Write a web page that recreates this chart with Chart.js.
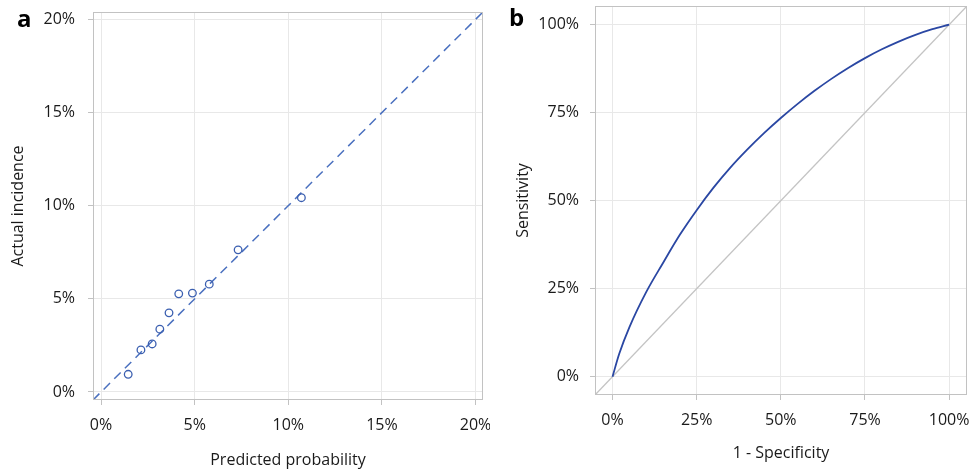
<!DOCTYPE html>
<html><head><meta charset="utf-8">
<script src="https://cdn.jsdelivr.net/npm/chart.js@4"></script>
<style>
body{margin:0;background:#fff;width:980px;height:471px;overflow:hidden;position:relative;}
.wrap{position:absolute;top:0;height:471px;width:490px;}
.lbl{position:absolute;font:bold 24px 'Open Sans';color:#000;line-height:1;}
</style></head><body>
<div class="wrap" style="left:0"><canvas id="ca" width="490" height="471"></canvas></div>
<div class="wrap" style="left:490px"><canvas id="cb" width="490" height="471"></canvas></div>
<div class="lbl" style="left:17px;top:6px">a</div>
<div class="lbl" style="left:509px;top:5px">b</div>
<script>
// ---- data ----
const calibPred = [1.45, 2.13, 2.73, 3.14, 3.63, 4.15, 4.88, 5.78, 7.32, 10.7];
const calibObs  = [0.95, 2.26, 2.58, 3.37, 4.25, 5.27, 5.31, 5.79, 7.63, 10.43];
const calibTicks = [0, 5, 10, 15, 20];
const calibTickLabels = ['0%', '5%', '10%', '15%', '20%'];
const calibRange = [-0.43, 20.4];

const rocFpr = [0, 2, 5, 10, 15, 20, 25, 30, 35, 40, 45, 50, 55, 60, 65, 70, 75, 80, 85, 90, 95, 100];
const rocTpr = [0, 6.5, 14, 24, 32.3, 40.3, 47.3, 53.7, 59.4, 64.5, 69.2, 73.5, 77.5, 81.2, 84.6, 87.7, 90.5, 93.0, 95.2, 97.1, 98.7, 100];
const rocTicks = [0, 25, 50, 75, 100];
const rocTickLabels = ['0%', '25%', '50%', '75%', '100%'];
const rocRange = [-5.2, 105.3];

// ---- styling helpers ----
const FONT = {family: "'Open Sans'", size: 16};
const TXT = '#1a1a1a';

const frame = {
  id: 'frame',
  afterDraw(chart) {
    const {ctx, chartArea: a} = chart;
    ctx.save();
    ctx.strokeStyle = '#c2c2c2';
    ctx.lineWidth = 1;
    ctx.strokeRect(Math.round(a.left) + 0.5, Math.round(a.top) + 0.5,
      Math.round(a.right - a.left) - 1, Math.round(a.bottom - a.top) - 1);
    ctx.restore();
  }
};

function axis(o) {
  return {
    type: 'linear', position: o.position, min: o.range[0], max: o.range[1],
    afterBuildTicks: s => { s.ticks = o.ticks.map(v => ({value: v})); },
    afterFit: s => {
      if (o.position === 'bottom') s.height = o.size; else s.width = o.size;
      s.paddingTop = 0; s.paddingBottom = 0; s.paddingLeft = 0; s.paddingRight = 0;
    },
    grid: {color: '#e8e8e8', tickColor: '#c2c2c2', tickLength: 5, lineWidth: 1, drawTicks: true},
    border: {display: false},
    ticks: {autoSkip: false, maxRotation: 0, padding: o.pad, font: FONT, color: TXT,
      callback: (v, i) => o.labels[i]},
    title: {display: true, text: o.title, font: FONT, color: TXT, padding: o.titlePad}
  };
}

function pts(xs, ys) { return xs.map((x, i) => ({x: x, y: ys[i]})); }

const common = {
  responsive: false, animation: false, devicePixelRatio: 1,
  plugins: {legend: {display: false}, tooltip: {enabled: false}}
};

new Chart(document.getElementById('ca'), {
  type: 'scatter',
  data: {datasets: [
    {data: pts(calibPred, calibObs), pointStyle: 'circle', pointRadius: 3.8,
     borderColor: '#3b5fb0', backgroundColor: 'rgba(0,0,0,0)', borderWidth: 1.3, order: 1},
    {data: pts(calibRange, calibRange), showLine: true, borderColor: '#4a70bf', borderWidth: 1.5,
     borderDash: [9, 6], pointRadius: 0, order: 2}
  ]},
  options: Object.assign({}, common, {
    layout: {padding: {top: 12, right: 7, left: 0, bottom: 0}},
    scales: {
      x: axis({position: 'bottom', range: calibRange, ticks: calibTicks, labels: calibTickLabels,
        size: 71, pad: 10.4, title: 'Predicted probability', titlePad: {top: 0, bottom: 1.4}}),
      y: axis({position: 'left', range: calibRange, ticks: calibTicks, labels: calibTickLabels,
        size: 93, pad: 13, title: 'Actual incidence', titlePad: {top: 8.4, bottom: 0}})
    }
  }),
  plugins: [frame]
});

new Chart(document.getElementById('cb'), {
  type: 'scatter',
  data: {datasets: [
    {data: pts(rocFpr, rocTpr), showLine: true, cubicInterpolationMode: 'monotone',
     borderColor: '#2a47a3', borderWidth: 1.8, pointRadius: 0, order: 1},
    {data: pts(rocRange, rocRange), showLine: true, borderColor: '#c4c4c4', borderWidth: 1.3,
     pointRadius: 0, order: 2}
  ]},
  options: Object.assign({}, common, {
    layout: {padding: {top: 6, right: 13, left: 0, bottom: 0}},
    scales: {
      x: axis({position: 'bottom', range: rocRange, ticks: rocTicks, labels: rocTickLabels,
        size: 76, pad: 10.4, title: '1 - Specificity', titlePad: {top: 0, bottom: 8.4}}),
      y: axis({position: 'left', range: rocRange, ticks: rocTicks, labels: rocTickLabels,
        size: 105, pad: 11, title: 'Sensitivity', titlePad: {top: 23.4, bottom: 0}})
    }
  }),
  plugins: [frame]
});
</script>
</body></html>
